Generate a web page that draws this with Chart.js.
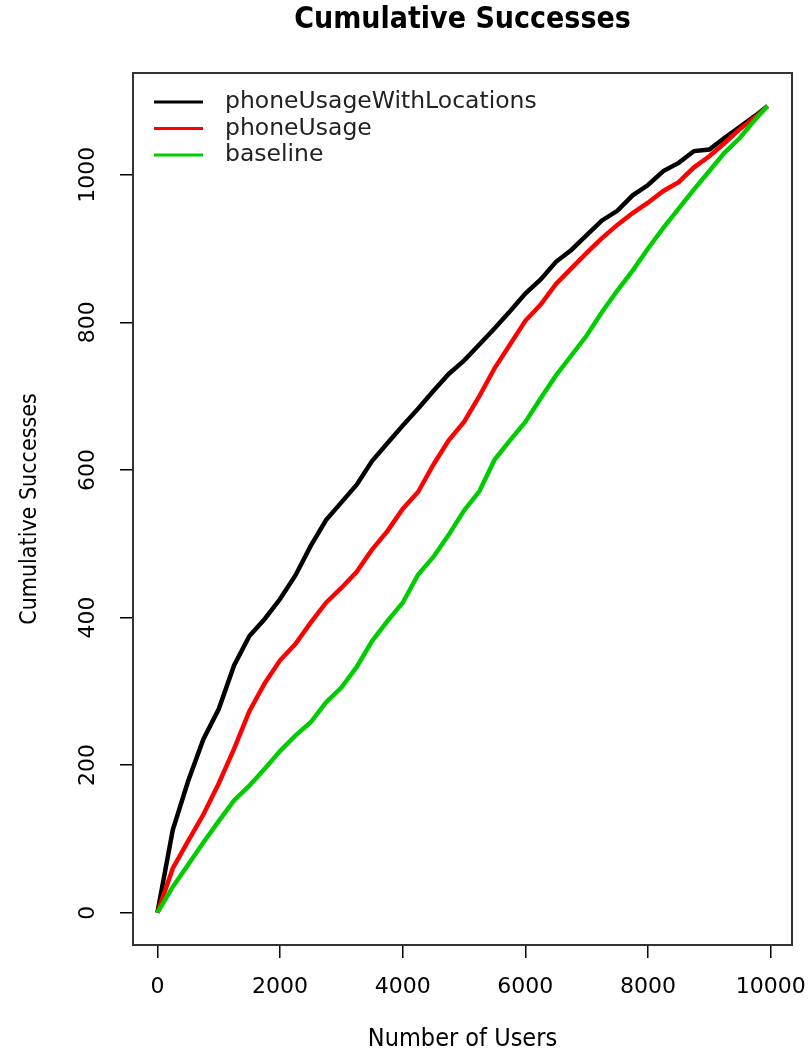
<!DOCTYPE html>
<html>
<head>
<meta charset="utf-8">
<title>Cumulative Successes</title>
<script src="https://cdn.jsdelivr.net/npm/chart.js@4/dist/chart.umd.min.js"></script>
<style>
  body { margin: 0; background: #fff; }
  #wrap { width: 809px; height: 1054px; }
</style>
</head>
<body>
<div id="wrap"><canvas id="chart"></canvas></div>
<script>
// number of users (x) and cumulative successes per model
var users = [0, 250, 500, 750, 1000, 1250, 1500, 1750, 2000, 2250, 2500, 2750, 3000, 3250, 3500, 3750,
  4000, 4250, 4500, 4750, 5000, 5250, 5500, 5750, 6000, 6250, 6500, 6750, 7000, 7250, 7500, 7750,
  8000, 8250, 8500, 8750, 9000, 9250, 9500, 9750, 9950];
var withLocations = [0, 112, 178, 235, 276, 335, 375, 398, 425, 457, 497, 532, 556, 580, 612, 636,
  660, 683, 707, 730, 748, 770, 792, 815, 839, 858, 882, 898, 918, 938, 951, 972,
  986, 1005, 1016, 1032, 1034, 1050, 1065, 1080, 1093];
var phoneUsage = [0, 60, 97, 133, 175, 222, 273, 311, 342, 364, 393, 420, 440, 462, 492, 517,
  547, 570, 607, 640, 665, 700, 738, 770, 802, 824, 852, 873, 894, 914, 932, 948,
  962, 978, 990, 1010, 1025, 1043, 1062, 1078, 1093];
var baseline = [0, 35, 65, 95, 124, 152, 172, 195, 219, 240, 258, 285, 305, 333, 368, 395,
  420, 458, 482, 512, 545, 571, 614, 640, 665, 697, 728, 755, 782, 814, 843, 870,
  900, 928, 954, 980, 1005, 1030, 1050, 1075, 1093];

var seriesNames = ['phoneUsageWithLocations', 'phoneUsage', 'baseline'];
var seriesColors = ['#000000', '#ff0000', '#00cd00'];
var xTicks = [0, 2000, 4000, 6000, 8000, 10000];
var yTicks = [0, 200, 400, 600, 800, 1000];
var mainTitle = 'Cumulative Successes';

function pts(arr) {
  return users.map(function (u, i) { return { x: u, y: arr[i] }; });
}

// R-style box around the plot region, plus the main title centred over it
var boxPlugin = {
  id: 'box',
  afterDraw: function (chart) {
    var a = chart.chartArea, c = chart.ctx;
    c.save();
    c.strokeStyle = '#333';
    c.lineWidth = 2;
    c.strokeRect(a.left, a.top, a.right - a.left, a.bottom - a.top);
    c.fillStyle = '#000';
    c.font = 'bold 30px "DejaVu Sans Condensed"';
    c.textAlign = 'center';
    c.textBaseline = 'middle';
    c.fillText(mainTitle, (a.left + a.right) / 2, 20);
    c.restore();
  }
};

// legend in the top left corner of the plot
var legendPlugin = {
  id: 'cornerLegend',
  afterDraw: function (chart) {
    var c = chart.ctx;
    c.save();
    c.font = '23.5px "DejaVu Sans"';
    c.textBaseline = 'middle';
    chart.data.datasets.forEach(function (ds, i) {
      var y = 102 + i * 26.5;
      c.strokeStyle = ds.borderColor;
      c.lineWidth = 3;
      c.beginPath();
      c.moveTo(154, y);
      c.lineTo(203, y);
      c.stroke();
      c.fillStyle = '#222';
      c.fillText(ds.label, 225, y);
    });
    c.restore();
  }
};

var tickFont = { family: 'DejaVu Sans', size: 22 };

function plain(v) { return String(v); }

new Chart(document.getElementById('chart'), {
  type: 'line',
  data: {
    datasets: [
      { label: seriesNames[0], data: pts(withLocations), borderColor: seriesColors[0], order: 2 },
      { label: seriesNames[1], data: pts(phoneUsage), borderColor: seriesColors[1], order: 1 },
      { label: seriesNames[2], data: pts(baseline), borderColor: seriesColors[2], order: 0 }
    ]
  },
  options: {
    animation: false,
    responsive: true,
    maintainAspectRatio: false,
    layout: { padding: { left: 0, right: 17, top: 73, bottom: 0 } },
    elements: { point: { radius: 0 }, line: { borderWidth: 4.5, tension: 0 } },
    plugins: {
      legend: { display: false },
      tooltip: { enabled: false },
      title: { display: false }
    },
    scales: {
      x: {
        type: 'linear',
        min: -398, max: 10348,
        afterBuildTicks: function (s) { s.ticks = xTicks.map(function (v) { return { value: v }; }); },
        afterFit: function (s) { s.height = 109; s.paddingLeft = 0; s.paddingRight = 0; },
        border: { display: false },
        grid: { drawOnChartArea: false, tickLength: 13, color: '#000', lineWidth: 1.5 },
        ticks: { font: tickFont, color: '#000', padding: 16, maxRotation: 0, autoSkip: false, callback: plain },
        title: { display: true, text: 'Number of Users', color: '#000', font: { family: 'DejaVu Sans Condensed', size: 25 }, padding: { top: 0, bottom: 0 } }
      },
      y: {
        type: 'linear',
        min: -43.8, max: 1137.8,
        afterBuildTicks: function (s) { s.ticks = yTicks.map(function (v) { return { value: v }; }); },
        afterFit: function (s) { s.width = 133; s.paddingTop = 0; s.paddingBottom = 0; },
        border: { display: false },
        grid: { drawOnChartArea: false, tickLength: 13, color: '#000', lineWidth: 1.5 },
        ticks: { font: tickFont, color: '#000', padding: 4, minRotation: 90, maxRotation: 90, crossAlign: 'center', autoSkip: false, callback: plain },
        title: { display: true, text: 'Cumulative Successes', color: '#000', font: { family: 'DejaVu Sans Condensed', size: 23 }, padding: { top: 16, bottom: 0 } }
      }
    }
  },
  plugins: [boxPlugin, legendPlugin]
});
</script>
</body>
</html>
